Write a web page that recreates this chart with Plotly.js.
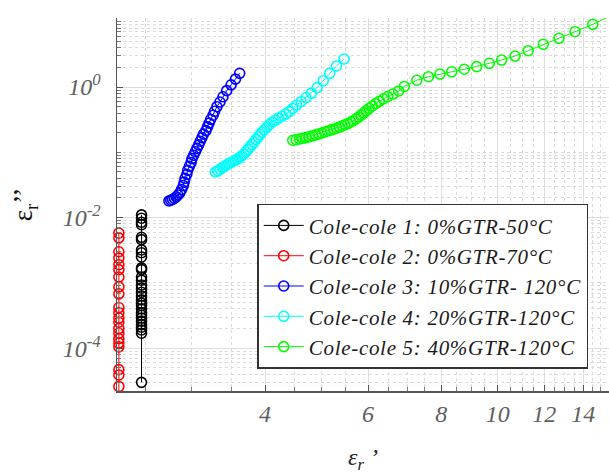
<!DOCTYPE html>
<html>
<head>
<meta charset="utf-8">
<script src="https://cdn.plot.ly/plotly-3.0.1.min.js"></script>
<style>
html,body{margin:0;padding:0;background:#fff;}
#chart{width:609px;height:474px;}
.legendtext{letter-spacing:0.7px;}
</style>
</head>
<body>
<div id="chart"></div>
<script>
// ---- data ----
const seriesNames = [
  "Cole-cole 1: 0%GTR-50°C",
  "Cole-cole 2: 0%GTR-70°C",
  "Cole-cole 3: 10%GTR- 120°C",
  "Cole-cole 4: 20%GTR-120°C",
  "Cole-cole 5: 40%GTR-120°C"
];

const s1X = [2.46,2.46,2.46,2.46,2.46,2.46,2.46,2.46,2.46,2.46,2.46,2.46,2.46,2.46,2.46,2.46,2.46,2.46,2.46,2.46,2.46,2.46,2.46,2.46,2.46,2.46,2.46,2.46,2.46,2.46];
const s1Y = [0.0110,0.0098,0.0085,0.0078,0.0050,0.0046,0.0032,0.0029,0.0025,0.0017,0.0016,0.00123,0.0011,0.00093,0.00083,0.00072,0.00063,0.00055,0.00049,0.00045,0.00040,0.00035,0.00032,0.00029,0.00026,0.00023,0.00021,0.00019,0.00017,0.000030];

const s2X = [2.25,2.25,2.25,2.25,2.25,2.25,2.25,2.25,2.25,2.25,2.25,2.25,2.25,2.25,2.25,2.25,2.25,2.25,2.25,2.25,2.25,2.25];
const s2Y = [0.0058,0.0049,0.0030,0.0024,0.0019,0.0016,0.00123,0.00087,0.00068,0.00042,0.00035,0.00029,0.00025,0.00020,0.00017,0.00014,0.00012,0.000105,0.000047,0.000039,0.000026,0.000021];

const s3X = [2.74,2.76,2.78,2.80,2.82,2.84,2.86,2.88,2.90,2.91,2.92,2.94,2.95,2.97,2.99,3.00,3.02,3.04,3.06,3.08,3.10,3.12,3.14,3.17,3.19,3.21,3.23,3.26,3.28,3.31,3.35,3.39,3.44,3.50,3.56,3.62];
const s3Y = [0.0180,0.0185,0.0190,0.0198,0.0208,0.0222,0.0240,0.0270,0.0310,0.0350,0.0400,0.0460,0.0530,0.0610,0.0700,0.0800,0.0900,0.1020,0.1150,0.1300,0.1480,0.1680,0.1900,0.2150,0.2450,0.2800,0.3200,0.3700,0.4250,0.5000,0.5900,0.7100,0.8800,1.0800,1.3200,1.6200];

const s4X = [3.29,3.32,3.35,3.38,3.41,3.44,3.47,3.50,3.53,3.56,3.59,3.62,3.65,3.68,3.71,3.74,3.77,3.80,3.83,3.86,3.89,3.92,3.95,3.99,4.03,4.07,4.12,4.17,4.22,4.28,4.34,4.40,4.46,4.53,4.61,4.70,4.80,4.91,5.03,5.16,5.30,5.46];
const s4Y = [0.050,0.052,0.055,0.058,0.061,0.064,0.067,0.070,0.073,0.076,0.079,0.083,0.088,0.094,0.102,0.111,0.121,0.132,0.144,0.157,0.171,0.186,0.203,0.222,0.243,0.268,0.292,0.312,0.334,0.357,0.385,0.420,0.470,0.530,0.600,0.690,0.800,0.980,1.250,1.620,2.100,2.690];

const s5X = [4.46,4.52,4.58,4.64,4.70,4.76,4.82,4.88,4.94,5.00,5.06,5.12,5.18,5.24,5.30,5.36,5.42,5.48,5.54,5.60,5.66,5.72,5.78,5.84,5.90,5.96,6.03,6.10,6.18,6.27,6.37,6.48,6.62,6.77,6.92,7.27,7.61,7.96,8.34,8.76,9.20,9.67,10.15,10.70,11.27,11.96,12.72,13.55,14.53,15.45];
const s5Y = [0.153,0.156,0.160,0.164,0.168,0.173,0.179,0.185,0.191,0.198,0.205,0.212,0.219,0.226,0.234,0.243,0.253,0.264,0.276,0.289,0.305,0.324,0.346,0.372,0.402,0.435,0.472,0.512,0.556,0.604,0.655,0.712,0.780,0.870,1.020,1.270,1.440,1.580,1.710,1.870,2.050,2.310,2.590,2.980,3.600,4.510,5.570,7.030,9.120,11.90];

const xTickVals = [4,6,8,10,12,14];
const xTickText = ["4","6","8","10","12","14"];
const yTickVals = [1e-4,1e-2,1];
const yTickText = ["10<sup>-4</sup>","10<sup>-2</sup>","10<sup>0</sup>"];

// ---- styling ----
const colors = ["#000000","#ff0000","#0000ff","#00ffff","#00ff00"];
const xs = [s1X,s2X,s3X,s4X,s5X];
const ys = [s1Y,s2Y,s3Y,s4Y,s5Y];

const traces = xs.map((x,i) => ({
  type: "scatter",
  mode: "lines+markers",
  x: x, y: ys[i],
  name: seriesNames[i],
  cliponaxis: false,
  line: {color: colors[i], width: 1},
  marker: {symbol: "circle-open", size: 10, color: colors[i], line: {width: 1.6, color: colors[i]}}
}));

const xMinor = [];
for (let v = 2.5; v <= 16; v += 0.5) xMinor.push(v);
const yMinor = [];
for (let e = -5; e <= 1; e++) for (let m = 1; m <= 9; m++) yMinor.push(m * Math.pow(10, e));

const serif = "Liberation Serif, Times New Roman, serif";
const tickFont = {family: serif, size: 24, color: "#606060", style: "italic"};

const layout = {
  width: 609, height: 474,
  margin: {l: 117, r: 0, t: 18, b: 83, pad: 0},
  paper_bgcolor: "#ffffff",
  plot_bgcolor: "#ffffff",
  showlegend: true,
  legend: {
    x: 0.285, y: 0.502, xanchor: "left", yanchor: "top",
    bgcolor: "#ffffff", bordercolor: "#333333", borderwidth: 1.5,
    font: {family: serif, size: 21, color: "#1a1a1a", style: "italic"},
    itemwidth: 40, tracegroupgap: 0
  },
  xaxis: {
    type: "log",
    range: [0.349, 1.190],
    tickvals: xTickVals, ticktext: xTickText,
    ticks: "inside", ticklen: 6, tickcolor: "#555",
    showline: true, linecolor: "#555", linewidth: 1.5,
    showgrid: true, gridcolor: "#dedede", gridwidth: 1,
    zeroline: false,
    tickfont: tickFont,
    ticklabelstandoff: 1,
    minor: {tickvals: xMinor, ticks: "inside", ticklen: 4, tickcolor: "#777", showgrid: true, gridcolor: "#dadada", griddash: "dot", gridwidth: 1},
    title: {text: "ε<sub>r</sub> ’", font: {family: serif, size: 24, color: "#222", style: "italic"}, standoff: 24}
  },
  yaxis: {
    type: "log",
    range: [-4.655, 1.057],
    tickvals: yTickVals, ticktext: yTickText,
    ticks: "inside", ticklen: 6, tickcolor: "#555",
    showline: true, linecolor: "#555", linewidth: 1.5,
    showgrid: true, gridcolor: "#dedede", gridwidth: 1,
    zeroline: false,
    tickfont: tickFont,
    ticklabelstandoff: 10,
    minor: {tickvals: yMinor, ticks: "inside", ticklen: 4, tickcolor: "#777", showgrid: true, gridcolor: "#dadada", griddash: "dot", gridwidth: 1},
    title: {text: "ε<sub>r</sub>’’", font: {family: serif, size: 27, color: "#111"}, standoff: 22}
  }
};

Plotly.newPlot("chart", traces, layout, {displayModeBar: false, staticPlot: true});
</script>
</body>
</html>
